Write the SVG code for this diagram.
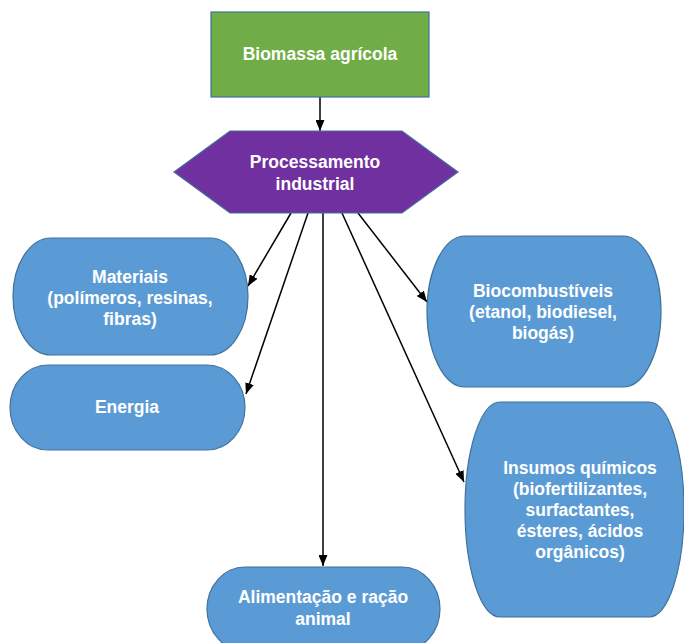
<svg xmlns="http://www.w3.org/2000/svg" width="684" height="643" viewBox="0 0 684 643">
<defs>
<style>
.lbl{font-family:"Liberation Sans",Arial,sans-serif;font-weight:bold;font-size:17.5px;fill:#ffffff;text-anchor:middle}
.blue{fill:#5B9BD5;stroke:#41719C;stroke-width:1.2}
.conn{stroke:#000;stroke-width:1.5;fill:none;marker-end:url(#ah)}
</style>
<marker id="ah" markerUnits="userSpaceOnUse" markerWidth="11" markerHeight="9" refX="11" refY="4.5" orient="auto">
<path d="M0,0 L11,4.5 L0,9 z" fill="#000"/>
</marker>
</defs>
<rect width="684" height="643" fill="#fff"/>
<g id="connectors">
<line class="conn" x1="320" y1="97" x2="320" y2="131"/>
<line class="conn" x1="291" y1="213" x2="248" y2="286"/>
<line class="conn" x1="308" y1="213" x2="246" y2="394"/>
<line class="conn" x1="323" y1="213" x2="323" y2="566"/>
<line class="conn" x1="342" y1="213" x2="464" y2="482"/>
<line class="conn" x1="358" y1="213" x2="427" y2="302"/>
</g>
<g id="biomassa">
<rect x="211" y="12" width="218" height="85" fill="#70AD47" stroke="#41719C" stroke-width="1.2"/>
<text class="lbl" x="320" y="60">Biomassa agrícola</text>
</g>
<g id="processamento">
<polygon points="174,172 230,131 402,131 458,172 402,213 230,213" fill="#7030A0" stroke="#41719C" stroke-width="1.2"/>
<text class="lbl" x="315" y="168">Processamento</text>
<text class="lbl" x="315" y="190">industrial</text>
</g>
<g id="materiais">
<path class="blue" d="M51,238 H210 A38,58.5 0 0 1 210,355 H51 A38,58.5 0 0 1 51,238 Z"/>
<text class="lbl" x="130" y="283">Materiais</text>
<text class="lbl" x="130" y="304">(polímeros, resinas,</text>
<text class="lbl" x="130" y="325">fibras)</text>
</g>
<g id="energia">
<path class="blue" d="M48,365 H207 A38,42.5 0 0 1 207,450 H48 A38,42.5 0 0 1 48,365 Z"/>
<text class="lbl" x="127" y="413">Energia</text>
</g>
<g id="biocombustiveis">
<path class="blue" d="M465,236 H623 A38,75.5 0 0 1 623,387 H465 A38,75.5 0 0 1 465,236 Z"/>
<text class="lbl" x="543" y="297">Biocombustíveis</text>
<text class="lbl" x="543" y="318">(etanol, biodiesel,</text>
<text class="lbl" x="543" y="339">biogás)</text>
</g>
<g id="insumos">
<path class="blue" d="M500,402 H649 A35,107.5 0 0 1 649,617 H500 A35,107.5 0 0 1 500,402 Z"/>
<text class="lbl" x="580" y="474">Insumos químicos</text>
<text class="lbl" x="580" y="495">(biofertilizantes,</text>
<text class="lbl" x="580" y="516">surfactantes,</text>
<text class="lbl" x="580" y="537">ésteres, ácidos</text>
<text class="lbl" x="580" y="558">orgânicos)</text>
</g>
<g id="alimentacao">
<path class="blue" d="M245,567 H402 A38,42 0 0 1 402,651 H245 A38,42 0 0 1 245,567 Z"/>
<text class="lbl" x="323" y="603">Alimentação e ração</text>
<text class="lbl" x="323" y="625">animal</text>
</g>
</svg>
